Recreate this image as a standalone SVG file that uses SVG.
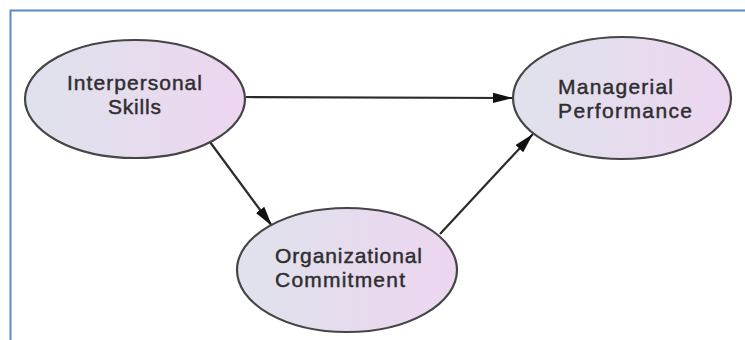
<svg xmlns="http://www.w3.org/2000/svg" width="745" height="340" viewBox="0 0 745 340">
<defs>
<linearGradient id="fill" x1="0" y1="0" x2="1" y2="0">
<stop offset="0" stop-color="#dfe2ec"/>
<stop offset="1" stop-color="#edd6f0"/>
</linearGradient>
<marker id="arrow" markerUnits="userSpaceOnUse" markerWidth="22" markerHeight="14" refX="20" refY="7" orient="auto">
<path d="M0,1.8 L20,7 L0,12.2 Z" fill="#111"/>
</marker>
<style>
.node ellipse{fill:url(#fill);stroke:#454545;stroke-width:2.2}
.node text{font-family:"Liberation Sans",Arial,sans-serif;font-size:21px;fill:#2e2e2e;stroke:#2e2e2e;stroke-width:0.45}
.edge{stroke:#2a2a2a;stroke-width:2.2;fill:none;marker-end:url(#arrow)}
</style>
</defs>
<rect width="745" height="340" fill="#ffffff"/>
<path d="M10.5,345 L10.5,10.5 L750,10.5" fill="none" stroke="#5b88c9" stroke-width="2"/>
<g id="connectors">
<line class="edge" x1="246" y1="97" x2="513" y2="98"/>
<line class="edge" x1="210" y1="142" x2="272" y2="226"/>
<line class="edge" x1="440" y1="234" x2="533" y2="134"/>
</g>
<g id="interpersonal-skills" class="node">
<ellipse cx="135" cy="99" rx="110" ry="59"/>
<text x="67" y="90" textLength="135" lengthAdjust="spacing">Interpersonal</text>
<text x="108" y="114" textLength="53" lengthAdjust="spacing">Skills</text>
</g>
<g id="managerial-performance" class="node">
<ellipse cx="622" cy="98" rx="109" ry="61"/>
<text x="558" y="94" textLength="115" lengthAdjust="spacing">Managerial</text>
<text x="558" y="118" textLength="134" lengthAdjust="spacing">Performance</text>
</g>
<g id="organizational-commitment" class="node">
<ellipse cx="347" cy="270" rx="110" ry="62"/>
<text x="275" y="263" textLength="147" lengthAdjust="spacing">Organizational</text>
<text x="275" y="287" textLength="130" lengthAdjust="spacing">Commitment</text>
</g>
</svg>
